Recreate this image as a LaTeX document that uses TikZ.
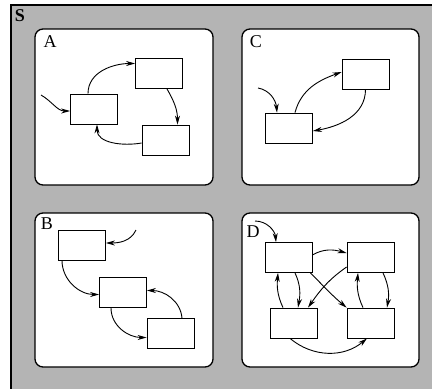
\documentclass[tikz,border=0pt]{standalone}
\usepackage{fontspec}
\setmainfont{Liberation Serif}
\usetikzlibrary{arrows.meta}
\definecolor{halftone}{RGB}{180,180,180}
\tikzset{
  panel/.style={draw=black, fill=white, line width=1.3pt, rounded corners=8pt},
  statebox/.style={draw=black, fill=white, line width=0.8pt, minimum width=47pt, minimum height=30pt, inner sep=0pt},
  lbl/.style={inner sep=0pt, scale=1.8},
  tr/.style={line width=0.9pt, -{Stealth[length=9pt,width=5pt]}},
}
\begin{document}
\begin{tikzpicture}[x=1pt,y=-1pt]
\useasboundingbox (0,0) rectangle (432,389);
\clip (0,0) rectangle (432,389);
% outer S
\fill[white] (0,0) rectangle (432,389);
\draw[fill=halftone, line width=1.3pt] (11,5) rectangle (445,400);
\node[lbl, font=\bfseries] (S) at (20,16) {S};
% panels
\draw[panel] (35,29) rectangle (213,185);
\draw[panel] (242,29) rectangle (419,185);
\draw[panel] (35,213) rectangle (213,367);
\draw[panel] (242,213) rectangle (419,367);
\node[lbl] (lA) at (50,42) {A};
\node[lbl] (lC) at (256,42) {C};
\node[lbl] (lB) at (47,224) {B};
\node[lbl] (lD) at (253,232) {D};
% --- A ---
\node[statebox] (a1) at (94,109) {};
\node[statebox] (a2) at (159,73.5) {};
\node[statebox] (a3) at (165.5,140) {};
\coordinate (ai) at (41,95);
\draw[tr] (ai) to[out=-30,in=180] ([yshift=-2pt]a1.west);
\draw[tr] ([xshift=-6pt]a1.north) to[out=90,in=180] ([yshift=10pt]a2.west);
\draw[tr] ([xshift=8pt]a2.south) to[out=-60,in=90] ([xshift=12pt]a3.north);
\draw[tr] ([yshift=-3pt]a3.west) to[out=190,in=-90] ([xshift=3pt]a1.south);
% --- C ---
\node[statebox] (c1) at (365.5,74) {};
\node[statebox] (c2) at (289,128) {};
\coordinate (ci) at (258,88);
\draw[tr] (ci) to[out=-10,in=95] ([xshift=-12pt]c2.north);
\draw[tr] ([xshift=6pt]c2.north) to[out=75,in=200] ([yshift=2pt]c1.west);
\draw[tr] (c1.south) to[out=-90,in=10] ([yshift=-3pt]c2.east);
% --- B ---
\node[statebox] (b1) at (82,245) {};
\node[statebox] (b2) at (123,292.5) {};
\node[statebox] (b3) at (170.5,333.5) {};
\coordinate (bi) at (136,230);
\draw[tr] (bi) to[out=-115,in=0] ([yshift=2pt]b1.east);
\draw[tr] ([xshift=-20pt]b1.south) to[out=-90,in=180] ([yshift=-2pt]b2.west);
\draw[tr] ([xshift=-12pt]b2.south) to[out=-90,in=180] ([yshift=-4pt]b3.west);
\draw[tr] ([xshift=11.5pt]b3.north) to[out=95,in=0] ([yshift=2pt]b2.east);
% --- D ---
\node[statebox] (d1) at (288.5,257.5) {};
\node[statebox] (d2) at (370.5,257.5) {};
\node[statebox] (d3) at (293.5,323) {};
\node[statebox] (d4) at (370.5,323) {};
\coordinate (di) at (255,221);
\draw[tr] (di) to[out=0,in=95] ([xshift=-12.5pt]d1.north);
\draw[tr] ([yshift=2.5pt]d1.east) to[out=30,in=165] ([yshift=4.5pt]d2.west);
\draw[tr] ([xshift=-2pt]d1.south east) to[out=-45,in=140] (d4.north west);
\draw[tr] ([yshift=-9.5pt]d2.west) to[out=215,in=55] ([xshift=14.5pt]d3.north);
\draw[tr] ([xshift=-10.5pt]d3.north) to[out=115,in=-95] ([xshift=-10.5pt]d1.south);
\draw[tr] ([xshift=6.5pt]d1.south) to[out=-65,in=80] ([xshift=4.5pt]d3.north);
\draw[tr] ([xshift=-7.5pt]d4.north) to[out=115,in=-95] ([xshift=-12.5pt]d2.south);
\draw[tr] ([xshift=12.5pt]d2.south) to[out=-65,in=80] ([xshift=16.5pt]d4.north);
\draw[tr] ([xshift=-3.5pt]d3.south) to[out=-40,in=-140] ([xshift=-3.5pt]d4.south);
\end{tikzpicture}
\end{document}
